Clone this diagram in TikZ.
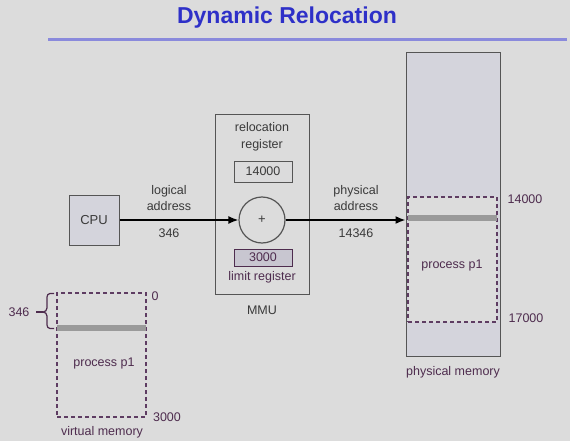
\documentclass[tikz,border=0pt]{standalone}
\usepackage{fontspec}
\setmainfont{Liberation Sans}
\usetikzlibrary{arrows.meta}
\definecolor{bg}{HTML}{DCDCDC}
\definecolor{titleblue}{HTML}{2E30C8}
\definecolor{rule}{HTML}{8A8ADC}
\definecolor{boxfill}{HTML}{D4D4DC}
\definecolor{boxline}{HTML}{555555}
\definecolor{txt}{HTML}{3A3A3A}
\definecolor{purp}{HTML}{4E2C4E}
\definecolor{dashc}{HTML}{5E3C62}
\definecolor{barc}{HTML}{9A9A9A}
\definecolor{limfill}{HTML}{C8C6D0}
\tikzset{
  lbl/.style={font=\fontsize{12.5}{16.5}\selectfont, text=txt, align=center, inner sep=0pt},
  plbl/.style={font=\fontsize{12.5}{16.5}\selectfont, text=purp, align=center, inner sep=0pt},
  solidbox/.style={draw=boxline, line width=1pt, fill=boxfill, inner sep=0pt},
  dashbox/.style={draw=dashc, line width=1.2pt, dash pattern=on 4pt off 3pt, fill=bg, inner sep=0pt},
  bar/.style={draw=barc, line width=6pt},
  arr/.style={draw=black, line width=1.6pt, -{Latex[length=10pt,width=8pt]}}
}
\begin{document}
\begin{tikzpicture}[x=1pt,y=-1pt]
\fill[bg] (0,0) rectangle (570,441);
\useasboundingbox (0,0) rectangle (570,441);
% title
\node[font=\bfseries\fontsize{23}{23}\selectfont, text=titleblue, inner sep=0pt] (title) at (287,18) {Dynamic Relocation};
\draw[rule, line width=2.5pt] (48,39.5) -- (567,39.5);
% CPU
\node[solidbox, minimum width=50pt, minimum height=50pt, font=\fontsize{13}{13}\selectfont, text=txt] (cpu) at (94,220) {CPU};
% MMU
\node[draw=boxline, line width=1pt, minimum width=94pt, minimum height=179pt, inner sep=0pt] (mmu) at (262,204.5) {};
\node[lbl] (reloc) at (262,137) {relocation\\register};
\node[draw=boxline, line width=1pt, fill=bg!90!boxfill, minimum width=58pt, minimum height=21pt, inner sep=0pt, font=\fontsize{12.5}{12.5}\selectfont, text=txt] (r14) at (263,171.5) {14000};
\node[draw=boxline, line width=1.2pt, circle, minimum size=46pt, inner sep=0pt, font=\fontsize{13}{13}\selectfont, text=txt] (plus) at (262,220) {+};
\node[draw=purp, line width=1pt, fill=limfill, minimum width=58pt, minimum height=17pt, inner sep=0pt, font=\fontsize{12.5}{12.5}\selectfont, text=purp] (r3) at (263,257.5) {3000};
\node[plbl] (limit) at (262,277.5) {limit register};
\node[lbl] (mmulbl) at (262,310) {MMU};
% physical memory
\node[solidbox, minimum width=94pt, minimum height=303pt] (pm) at (453,204.5) {};
\node[dashbox, minimum width=89pt, minimum height=125pt] (pp) at (452.5,259.5) {};
\coordinate (pbl) at (408,218);
\coordinate (pbr) at (497,218);
\draw[bar] (pbl) -- (pbr);
\node[plbl] (pp1) at (452,265) {process p1};
\node[plbl] (p14) at (525,199.5) {14000};
\node[plbl] (p17) at (526,318.5) {17000};
\node[plbl] (pmlbl) at (453,372) {physical memory};
% arrows
\coordinate (pin) at (pm.west |- plus.east);
\draw[arr] (cpu.east) -- (plus.west);
\draw[arr] (plus.east) -- (pin);
\node[lbl] (la) at (169,198) {logical\\address};
\node[lbl] (l346) at (169,233.5) {346};
\node[lbl] (pa) at (356,198) {physical\\address};
\node[lbl] (p14346) at (356,233.5) {14346};
% virtual memory
\node[dashbox, minimum width=89pt, minimum height=124pt] (vp) at (101.5,355) {};
\coordinate (vbl) at (57,328);
\coordinate (vbr) at (146,328);
\draw[bar] (vbl) -- (vbr);
\node[plbl] (vp1) at (104,363) {process p1};
\node[plbl] (v0) at (155,296.5) {0};
\node[plbl] (v3000) at (167,417.5) {3000};
\node[plbl] (vmlbl) at (102,432.5) {virtual memory};
\node[plbl] (v346) at (19,312.5) {346};
% brace
\draw[purp, line width=1.2pt] (54,293.5) -- (50,293.5) to[out=180,in=90] (47,297) -- (47,308) to[out=-90,in=0] (43,312) to[out=0,in=90] (47,316) -- (47,325) to[out=-90,in=180] (50,328.5) -- (54,328.5);
\draw[purp, line width=1.2pt] (36,312) -- (43,312);
\end{tikzpicture}
\end{document}
